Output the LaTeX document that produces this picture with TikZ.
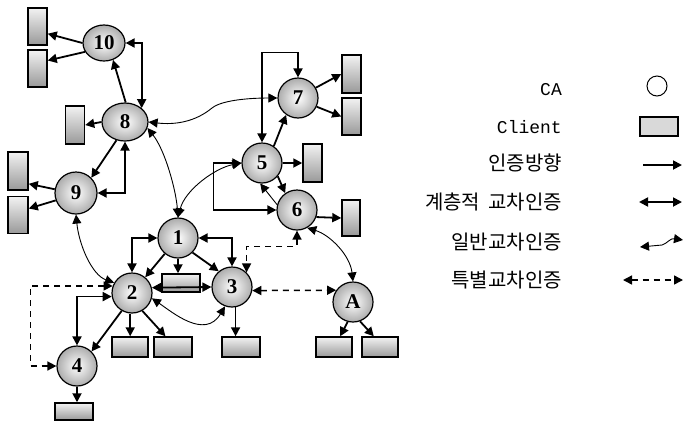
\documentclass[tikz,border=0pt]{standalone}
\usepackage{fontspec}
\newfontfamily\krfont{Noto Sans CJK KR}
\newfontfamily\lmono{Liberation Mono}
\newfontfamily\numfont{Liberation Serif}
\usetikzlibrary{arrows.meta,shapes.geometric}
\begin{document}
\begin{tikzpicture}[x=1pt,y=-1pt,
 >={Triangle[length=9pt,width=9pt]},
 ca/.style={circle, draw, line width=1.2pt, inner color=white, outer color=gray!65, minimum size=40pt, inner sep=0pt, font=\numfont\bfseries\fontsize{21}{21}\selectfont},
 caell/.style={ca, ellipse},
 client/.style={draw, line width=1.5pt, top color=gray!10, bottom color=gray!80, inner sep=0pt},
 vclient/.style={client, minimum width=19pt, minimum height=37pt},
 hclient/.style={client, minimum width=37pt, minimum height=19pt},
 cert/.style={line width=1.8pt, ->},
 hier/.style={line width=1.8pt, <->},
 general/.style={line width=0.9pt, <->},
 special/.style={line width=1.5pt, dash pattern=on 6pt off 5pt, <->},
 lbl/.style={anchor=east, inner sep=0pt, font=\krfont\fontsize{20}{20}\selectfont},
 mlbl/.style={anchor=east, inner sep=0pt, font=\lmono\fontsize{18}{18}\selectfont}
]
\fill[white] (0,0) rectangle (685,421);
\useasboundingbox (0,0) rectangle (685,421);

% CA nodes
\node[caell, minimum width=42pt, minimum height=36pt] (n10) at (104,43) {10};
\node[caell, minimum width=46pt, minimum height=38pt] (n8) at (125,122) {8};
\node[ca, minimum size=42pt] (n9) at (76,193) {9};
\node[ca] (n7) at (298,98) {7};
\node[ca] (n5) at (262,163) {5};
\node[ca] (n6) at (297,210) {6};
\node[ca] (n1) at (178,238) {1};
\node[ca] (n2) at (132,293) {2};
\node[ca] (n3) at (232,287) {3};
\node[ca] (n4) at (77,366) {4};
\node[ca] (nA) at (353,302) {A};

% Clients
\node[vclient] (c10a) at (37.5,26.5) {};
\node[vclient] (c10b) at (37.5,68.5) {};
\node[vclient, minimum height=38pt] (c8) at (75,125) {};
\node[vclient, minimum width=20pt, minimum height=38pt] (c9a) at (18,171) {};
\node[vclient, minimum width=20pt] (c9b) at (18,215) {};
\node[vclient, minimum height=38pt] (c7a) at (351.5,74) {};
\node[vclient] (c7b) at (351.5,116.5) {};
\node[vclient, minimum height=38pt] (c5) at (312.5,163) {};
\node[vclient, minimum width=18pt, minimum height=36pt] (c6) at (351,218) {};
\node[hclient, minimum width=38pt, minimum height=18pt] (c1) at (181,283) {};
\node[hclient, minimum width=36pt, minimum height=20pt] (c2a) at (130,347) {};
\node[hclient, minimum width=38pt, minimum height=20pt] (c2b) at (173,347) {};
\node[hclient, minimum width=38pt, minimum height=20pt] (c3) at (241,347) {};
\node[hclient, minimum width=38pt, minimum height=17pt] (c4) at (74,411.5) {};
\node[hclient, minimum width=36pt, minimum height=20pt] (cA1) at (334,347) {};
\node[hclient, minimum width=36pt, minimum height=20pt] (cA2) at (380,347) {};

% 10
\draw[cert] (n10.180) -- (c10a.-35);
\draw[cert] (n10.205) -- (c10b.38);
\draw[cert] (n8.88) -- (n10.-62);
\draw[hier] (n10.east) -| (n8.north east);

% 8 and 9
\draw[cert] (n8.180) -- (c8.east);
\draw[cert] (n8.245) -- (n9.45);
\draw[hier] (n8.south) |- (n9.east);
\draw[cert] (n9.170) -- (c9a.-50);
\draw[cert] (n9.200) -- (c9b.31);

% general cross certification
\draw[general] (n9.-90) .. controls (79,245) and (92,275) .. (n2.150);
\draw[general] (n8.-15) .. controls (165,150) and (176,190) .. (n1.north);
\draw[general] (n8.east) .. controls (175,125) and (195,122) .. (212,108) .. controls (222,100) and (250,98) .. (n7.west);
\draw[general] (n5.west) .. controls (215,168) and (185,190) .. (n1.north);
\draw[general] (n2.-15) .. controls (172,312) and (205,340) .. (n3.-110);
\draw[general] (n6.-60) .. controls (330,235) and (350,255) .. (nA.north);
\draw[line width=0.9pt, ->] (n6.165) -- (n5.-95);

% 1
\draw[hier] (n1.west) -| (n2.north);
\draw[hier] (n1.east) -| (n3.north);
\draw[cert] (n1.-130) -- (n2.50);
\draw[cert] (n1.-45) -- (n3.130);
\draw[cert] (n1.south) -- (n1.south |- c1.north);
\draw[hier] (n2.15) -- (n3.west);

% 3
\draw[cert] (n3.-80) -- (n3.-80 |- c3.north);
\draw[special] (n6.south) |- ([yshift=26pt]n3.45) -- (n3.45);
\draw[special] (n3.-10) -- (nA.145);

% A
\draw[cert] (nA.-105) -- (cA1.60);
\draw[cert] (nA.-70) -- (cA2.120);

% 2 and 4
\draw[cert] (n2.-95) -- (n2.-95 |- c2a.north);
\draw[cert] (n2.-60) -- (c2b.125);
\draw[cert] (n2.-120) -- (n4.45);
\draw[hier] (n4.north) |- (n2.190);
\draw[special] (n2.160) -| ([xshift=-26pt]n4.west) -- (n4.west);
\draw[cert] (n4.south) -- (n4.south |- c4.north);

% 5, 6, 7
\draw[hier] (n5.north) |- ([yshift=25pt]n7.north) -- (n7.north);
\draw[cert] (n5.55) -- (n7.-125);
\draw[cert] (n7.30) -- (c7a.west);
\draw[cert] (n7.-25) -- (c7b.west);
\draw[cert] (n5.east) -- (c5.west);
\draw[cert] (n5.-40) -- (n6.125);
\draw[hier] (n5.west) -- ([xshift=-28pt]n5.west) |- (n6.west);
\draw[cert] (n6.-20) -- (c6.west);

% Legend
\node[mlbl] (tca) at (562,90) {CA};
\node[mlbl] (tcl) at (562,127) {Client};
\node[lbl] (t1) at (562,163) {인증방향};
\node[lbl] (t2) at (562,202) {계층적\hspace{8pt}교차인증};
\node[lbl] (t3) at (562,242) {일반교차인증};
\node[lbl] (t4) at (562,280) {특별교차인증};

\node[circle, draw, line width=1pt, fill=white, minimum size=20pt, inner sep=0pt] (lca) at (657,86) {};
\node[draw, line width=1.5pt, fill=gray!30, minimum width=38pt, minimum height=19pt, inner sep=0pt] (lcl) at (659,126.5) {};
\coordinate (la1) at (643,165); \coordinate (la2) at (682,165);
\draw[cert] (la1) -- (la2);
\coordinate (lb1) at (639,202); \coordinate (lb2) at (682,202);
\draw[hier] (lb1) -- (lb2);
\coordinate (lc1) at (640,247); \coordinate (lc2) at (683,240);
\draw[general] (lc1) -- (662,245) .. controls (668,243) and (670,238) .. (lc2);
\coordinate (ld1) at (623,280); \coordinate (ld2) at (683,280);
\draw[special] (ld1) -- (ld2);
\end{tikzpicture}
\end{document}
